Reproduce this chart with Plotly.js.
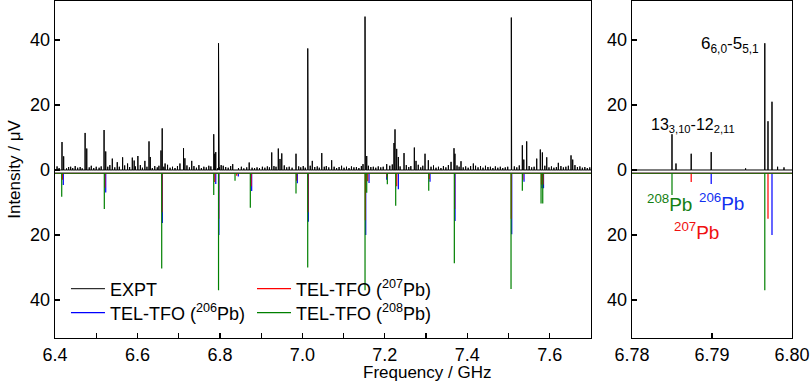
<!DOCTYPE html>
<html>
<head>
<meta charset="utf-8">
<script src="https://cdn.plot.ly/plotly-3.0.1.min.js"></script>
<style>html,body{margin:0;padding:0;background:#fff;}#chart{width:810px;height:384px;}</style>
</head>
<body>
<div id="chart"></div>
<script>
// ---------- DATA ----------
// Experimental spectrum: main lines (GHz, µV)
const EXPT_FREQ = [6.417, 6.421, 6.473, 6.477, 6.519, 6.523, 6.539, 6.551, 6.564, 6.576, 6.5875, 6.592, 6.601, 6.618, 6.628, 6.631,
  6.657, 6.660, 6.667, 6.703, 6.7117, 6.715, 6.7316,
  6.7850, 6.7855, 6.7874, 6.7899, 6.7966, 6.7970, 6.7975, 6.7982,
  6.831, 6.871, 6.9256, 6.9416, 6.9457, 6.950, 6.9845, 7.0130, 7.0140, 7.024, 7.047, 7.071,
  7.1519, 7.1527, 7.156, 7.2045, 7.2222, 7.2246, 7.2287, 7.2327, 7.2465, 7.2715, 7.2756, 7.2974, 7.3054,
  7.3605, 7.3677, 7.370, 7.3847, 7.4146, 7.5067, 7.5075, 7.5334, 7.537, 7.544, 7.5683, 7.577, 7.582, 7.5926,
  7.6207, 7.6515, 7.6556];
const EXPT_INT = [8.6, 4.2, 11.4, 6.6, 12.3, 5.7, 3.5, 2.4, 3.9, 2.0, 3.8, 2.9, 4.3, 2.8, 8.8, 4.0,
  6.0, 12.8, 2.0, 2.0, 6.7, 3.6, 2.8,
  11.0, 2.0, 5.0, 5.5, 39.0, 15.0, 21.0, 1.0,
  1.8, 2.3, 5.4, 6.6, 3.4, 5.1, 5.0, 37.4, 13.8, 2.8, 5.2, 3.0,
  47.2, 18.0, 4.3, 1.8, 8.3, 12.5, 6.5, 4.0, 5.2, 6.9, 2.8, 5.0, 3.0,
  2.5, 6.7, 5.0, 2.7, 2.0, 46.9, 22.3, 7.6, 3.2, 8.8, 3.5, 6.3, 5.4, 3.9,
  2.2, 4.5, 3.2];
// Experimental spectrum: small baseline features
const NOISE_FREQ = [6.405, 6.410, 6.428, 6.433, 6.438, 6.443, 6.449, 6.455, 6.461, 6.466, 6.483, 6.488, 6.494, 6.500, 6.507, 6.512,
  6.528, 6.533, 6.545, 6.556, 6.569, 6.581, 6.595, 6.607, 6.612, 6.623, 6.636, 6.642, 6.648, 6.652, 6.664, 6.673, 6.679, 6.685,
  6.691, 6.697, 6.720, 6.726, 6.737, 6.743, 6.749, 6.755, 6.761, 6.767, 6.773, 6.778, 6.7942, 6.7990, 6.803, 6.808, 6.814, 6.820,
  6.826, 6.845, 6.852, 6.858, 6.865, 6.878, 6.884, 6.890, 6.896, 6.903, 6.909, 6.915, 6.920, 6.931, 6.936, 6.956, 6.962, 6.968,
  6.975, 6.991, 6.996, 7.002, 7.007, 7.019, 7.030, 7.036, 7.041, 7.053, 7.058, 7.064, 7.077, 7.083, 7.089, 7.095, 7.101, 7.107,
  7.113, 7.119, 7.125, 7.131, 7.137, 7.143, 7.147, 7.160, 7.166, 7.172, 7.178, 7.184, 7.190, 7.196, 7.212, 7.218, 7.237, 7.252,
  7.258, 7.263, 7.281, 7.287, 7.292, 7.312, 7.318, 7.324, 7.330, 7.336, 7.342, 7.348, 7.354, 7.375, 7.380, 7.390, 7.396, 7.402,
  7.408, 7.420, 7.426, 7.432, 7.438, 7.444, 7.450, 7.456, 7.462, 7.468, 7.474, 7.480, 7.486, 7.492, 7.498, 7.514, 7.520, 7.526,
  7.550, 7.556, 7.562, 7.588, 7.598, 7.604, 7.610, 7.616, 7.627, 7.633, 7.639, 7.645, 7.661, 7.667, 7.673, 7.679, 7.685, 7.691, 7.697];
const NOISE_INT = [1.1, 0.6, 0.5, 0.9, 1.0, 0.6, 1.2, 0.7, 0.9, 0.5, 0.8, 1.3, 0.6, 1.0, 0.7, 1.1,
  1.0, 1.5, 0.8, 1.0, 1.4, 0.9, 1.1, 1.5, 0.7, 1.0, 0.6, 1.2, 0.8, 1.3, 1.0, 1.6, 0.7, 1.0,
  0.6, 1.2, 1.4, 0.8, 1.2, 0.7, 1.5, 0.6, 1.0, 0.8, 1.3, 1.1, 0.5, 0.8, 1.5, 1.3, 0.9, 0.7,
  1.2, 0.6, 1.0, 0.5, 0.8, 0.7, 0.6, 0.8, 0.6, 1.0, 0.7, 1.1, 0.8, 1.2, 1.0, 1.4, 0.8, 1.0,
  0.7, 1.1, 0.8, 1.2, 0.7, 1.3, 0.9, 1.1, 0.7, 1.0, 1.2, 0.8, 1.0, 0.6, 0.9, 1.3, 0.7, 1.0,
  0.6, 1.1, 0.8, 0.9, 0.6, 1.2, 1.8, 1.3, 0.9, 1.0, 0.7, 1.1, 0.8, 1.0, 1.3, 1.7, 1.1, 1.5,
  0.9, 1.2, 1.6, 0.8, 1.3, 1.0, 1.4, 0.7, 1.0, 0.6, 1.2, 0.8, 1.5, 1.4, 1.0, 0.8, 1.1, 0.7,
  1.2, 1.3, 0.8, 1.2, 0.7, 1.3, 0.9, 1.0, 0.6, 1.1, 0.7, 1.0, 0.6, 0.8, 1.0, 1.1, 0.8, 1.4,
  1.2, 0.8, 1.0, 1.3, 0.8, 1.1, 0.7, 0.9, 1.2, 0.8, 1.0, 1.3, 1.5, 0.9, 1.1, 0.7, 0.9, 0.6, 0.8];

// Simulated stick spectra (plotted downward)
const PB208_FREQ = [6.4163, 6.5196, 6.6588, 6.7850, 6.7966, 6.8366, 6.8737, 6.9845, 7.0129, 7.1519, 7.1560, 7.2060, 7.2263, 7.3064, 7.3685, 7.5060, 7.5334, 7.5788, 7.5829];
const PB208_INT  = [8.2, 12.0, 30.3, 7.7, 37.0, 3.3, 11.6, 7.2, 30.0, 37.0, 7.0, 4.4, 11.0, 6.4, 28.7, 36.6, 6.4, 10.3, 10.3];
const PB207_FREQ = [6.4180, 6.5210, 6.6595, 6.7874, 6.7970, 6.8407, 6.8755, 6.9860, 7.0136, 7.1527, 7.1584, 7.2052, 7.2287, 7.3075, 7.3692, 7.5067, 7.5346, 7.5798, 7.5838];
const PB207_INT  = [3.0, 5.5, 13.0, 3.7, 15.0, 1.8, 5.0, 3.3, 13.0, 15.5, 3.5, 2.2, 5.0, 2.8, 12.0, 15.0, 3.0, 4.5, 4.5];
const PB206_FREQ = [6.4201, 6.5230, 6.6603, 6.7899, 6.7975, 6.8446, 6.8770, 6.9877, 7.0144, 7.1536, 7.1616, 7.2045, 7.2327, 7.3095, 7.3702, 7.5077, 7.5375, 7.5808, 7.5848];
const PB206_INT  = [4.6, 6.9, 16.3, 4.3, 20.0, 2.0, 6.5, 4.1, 15.9, 20.0, 4.0, 3.0, 5.9, 3.6, 15.7, 19.8, 3.6, 5.6, 5.6];

// Axis / label text
const LEFT_TICKS = [6.4, 6.6, 6.8, 7.0, 7.2, 7.4, 7.6];
const RIGHT_TICKS = [6.78, 6.79, 6.80];
const Y_TICKVALS = [-40, -20, 0, 20, 40];
const Y_TICKTEXT = ['40', '20', '0', '20', '40'];

// ---------- STYLE ----------
const X_RANGE_L = [6.4, 7.7];
const X_RANGE_R = [6.78, 6.80];
const Y_RANGE = [-51.7, 52];
const SIM_BASE = -1;
const C_EXPT = '#000000', C206 = '#0000ff', C207 = '#ff0000', C208 = '#008000';
const FONT = 'Liberation Sans, Arial, Helvetica, sans-serif';

function sticks(freqs, ints, base, sign) {
  const pairs = freqs.map((f, i) => [f, ints[i]]).sort((a, b) => a[0] - b[0]);
  const xs = [X_RANGE_L[0]], ys = [base];
  pairs.forEach(([f, h]) => { xs.push(f, f, f); ys.push(base, sign * h, base); });
  xs.push(X_RANGE_L[1]); ys.push(base);
  return {x: xs, y: ys};
}

const expt = sticks(EXPT_FREQ.concat(NOISE_FREQ), EXPT_INT.concat(NOISE_INT), 0, 1);
const s206 = sticks(PB206_FREQ, PB206_INT, SIM_BASE, -1);
const s207 = sticks(PB207_FREQ, PB207_INT, SIM_BASE, -1);
const s208 = sticks(PB208_FREQ, PB208_INT, SIM_BASE, -1);

const series = [
  {d: expt, name: 'EXPT', color: C_EXPT, w: 1, legend: 'legend'},
  {d: s206, name: 'TEL-TFO (<sup>206</sup>Pb)', color: C206, w: 1.2, legend: 'legend2'},
  {d: s207, name: 'TEL-TFO (<sup>207</sup>Pb)', color: C207, w: 1.2, legend: 'legend3'},
  {d: s208, name: 'TEL-TFO (<sup>208</sup>Pb)', color: C208, w: 1.2, legend: 'legend4'}
];

const traces = [];
series.forEach(s => {
  traces.push({type: 'scatter', mode: 'lines', x: s.d.x, y: s.d.y, name: s.name, legend: s.legend,
    line: {color: s.color, width: s.w}, xaxis: 'x', yaxis: 'y', hoverinfo: 'skip'});
});
series.forEach(s => {
  traces.push({type: 'scatter', mode: 'lines', x: s.d.x, y: s.d.y, name: s.name, showlegend: false,
    line: {color: s.color, width: s.w}, xaxis: 'x2', yaxis: 'y2', hoverinfo: 'skip'});
});

const axisCommon = {
  showline: true, mirror: true, linecolor: '#000', linewidth: 1.3,
  ticks: 'inside', ticklen: 5, tickwidth: 1.2, tickcolor: '#000',
  showgrid: false, zeroline: false,
  tickfont: {family: FONT, size: 18, color: '#000'}
};

function legendAt(x, y) {
  return {x: x, y: y, xanchor: 'left', yanchor: 'middle', bgcolor: 'rgba(0,0,0,0)',
    font: {family: FONT, size: 18, color: '#000'}, itemwidth: 34};
}

const layout = {
  width: 810, height: 384,
  margin: {l: 55, r: 18, t: 1, b: 46},
  paper_bgcolor: '#fff', plot_bgcolor: '#fff',
  font: {family: FONT, color: '#000'},
  xaxis: Object.assign({}, axisCommon, {
    domain: [0, 0.7273], range: X_RANGE_L, anchor: 'y',
    tickvals: LEFT_TICKS, ticktext: LEFT_TICKS.map(v => v.toFixed(1)),
    minor: {dtick: 0.1, tick0: 6.4, ticks: 'inside', ticklen: 5, tickwidth: 1.2, tickcolor: '#000'}
  }),
  yaxis: Object.assign({}, axisCommon, {
    domain: [0, 1], range: Y_RANGE, anchor: 'x',
    tickvals: Y_TICKVALS, ticktext: Y_TICKTEXT,
    title: {text: 'Intensity / μV', font: {family: FONT, size: 17}, standoff: 5}
  }),
  xaxis2: Object.assign({}, axisCommon, {
    domain: [0.7829, 1], range: X_RANGE_R, anchor: 'y2',
    tickvals: RIGHT_TICKS, ticktext: RIGHT_TICKS.map(v => v.toFixed(2))
  }),
  yaxis2: Object.assign({}, axisCommon, {
    domain: [0, 1], range: Y_RANGE, anchor: 'x2',
    tickvals: Y_TICKVALS, ticktext: Y_TICKTEXT
  }),
  legend: legendAt(0.0149, 0.1454),
  legend2: legendAt(0.0149, 0.0742),
  legend3: legendAt(0.2673, 0.1454),
  legend4: legendAt(0.2673, 0.0742),
  annotations: [
    {xref: 'paper', yref: 'paper', x: 0.506, y: -0.102, xanchor: 'center', yanchor: 'middle',
      text: 'Frequency / GHz', showarrow: false, font: {family: FONT, size: 17, color: '#000'}},
    {xref: 'x2', yref: 'y2', x: 6.7961, y: 38.5, xanchor: 'right', yanchor: 'middle',
      text: '6<sub>6,0</sub>-5<sub>5,1</sub>', showarrow: false, font: {family: FONT, size: 17, color: '#000'}},
    {xref: 'x2', yref: 'y2', x: 6.7876, y: 13.8, xanchor: 'center', yanchor: 'middle',
      text: '13<sub>3,10</sub>-12<sub>2,11</sub>', showarrow: false, font: {family: FONT, size: 16, color: '#000'}},
    {xref: 'x2', yref: 'y2', x: 6.78475, y: -10.2, xanchor: 'center', yanchor: 'middle',
      text: '<sup>208</sup>Pb', showarrow: false, font: {family: FONT, size: 19, color: '#138013'}},
    {xref: 'x2', yref: 'y2', x: 6.79125, y: -9.8, xanchor: 'center', yanchor: 'middle',
      text: '<sup>206</sup>Pb', showarrow: false, font: {family: FONT, size: 19, color: '#1030f0'}},
    {xref: 'x2', yref: 'y2', x: 6.7881, y: -18.8, xanchor: 'center', yanchor: 'middle',
      text: '<sup>207</sup>Pb', showarrow: false, font: {family: FONT, size: 19, color: '#f01010'}}
  ]
};

Plotly.newPlot('chart', traces, layout, {displayModeBar: false, staticPlot: true});
</script>
</body>
</html>
